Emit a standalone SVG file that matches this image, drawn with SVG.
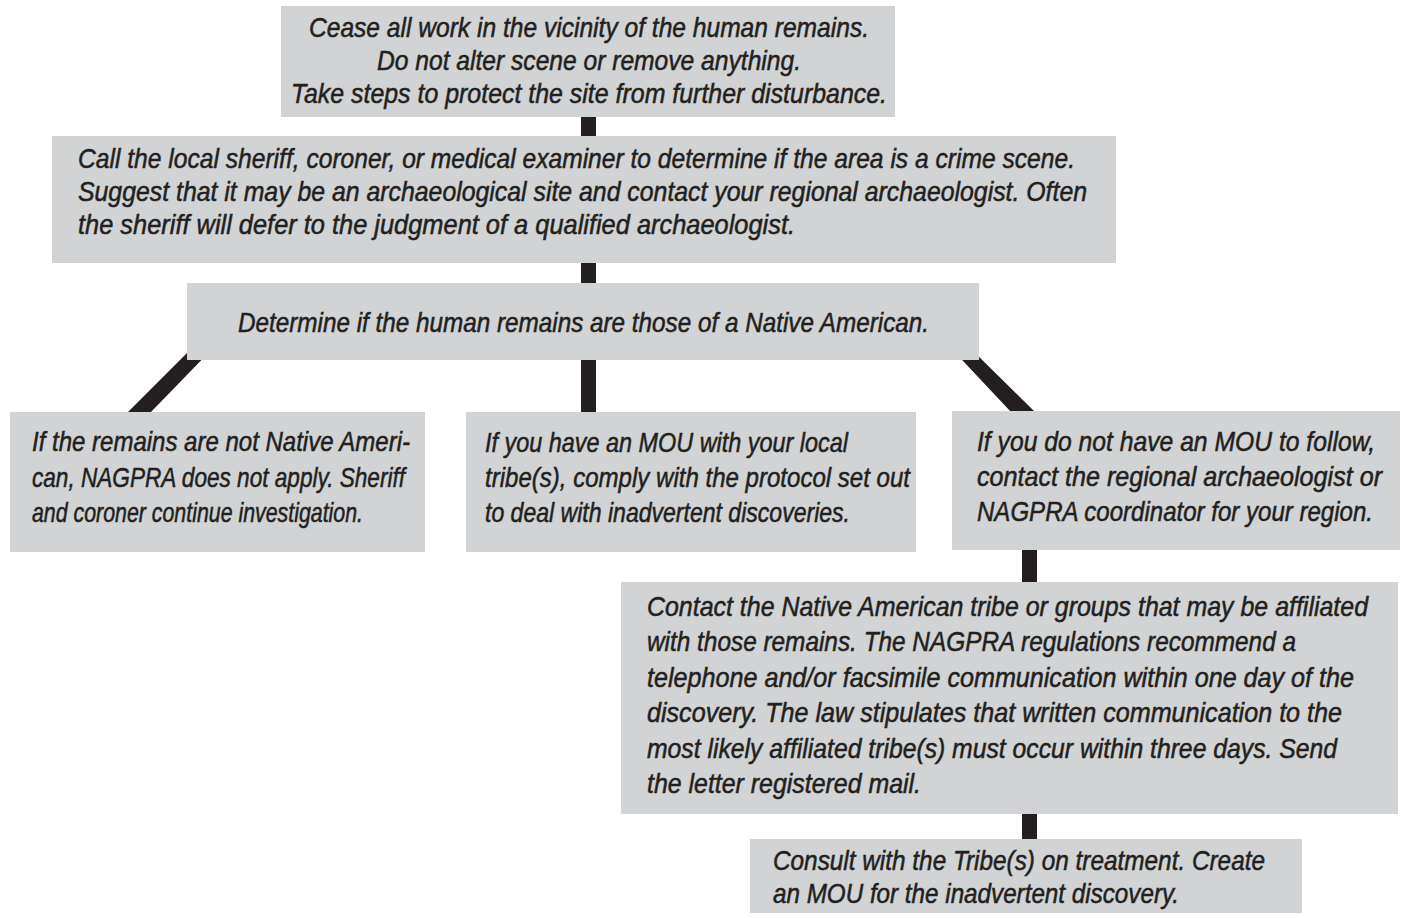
<svg xmlns="http://www.w3.org/2000/svg" width="1403" height="918" viewBox="0 0 1403 918">
<style>
.box{fill:#d1d3d4}
.con{fill:#231f20}
text{font-family:"Liberation Sans",Arial,sans-serif;font-style:italic;font-size:24px;fill:#231f20;stroke:#231f20;stroke-width:0.45px}
</style>
<rect width="1403" height="918" fill="#ffffff"/>
<g id="connectors">
<rect class="con" x="581" y="110" width="15" height="30"/>
<rect class="con" x="581" y="255" width="15" height="32"/>
<rect class="con" x="581" y="355" width="15" height="62"/>
<polygon class="con" points="195,345 216,345 150,413 127,413"/>
<polygon class="con" points="948,345 967,345 1035,412 1011,412"/>
<rect class="con" x="1022" y="545" width="15" height="42"/>
<rect class="con" x="1022" y="810" width="15" height="34"/>
</g>
<g id="node1">
<rect class="box" x="281" y="6" width="614" height="111"/>
<text transform="translate(309,37) scale(1,1.125)" textLength="560" lengthAdjust="spacingAndGlyphs">Cease all work in the vicinity of the human remains.</text>
<text transform="translate(377,70) scale(1,1.125)" textLength="424" lengthAdjust="spacingAndGlyphs">Do not alter scene or remove anything.</text>
<text transform="translate(291,103) scale(1,1.125)" textLength="596" lengthAdjust="spacingAndGlyphs">Take steps to protect the site from further disturbance.</text>
</g>
<g id="node2">
<rect class="box" x="52" y="136" width="1064" height="127"/>
<text transform="translate(78,168) scale(1,1.125)" textLength="997" lengthAdjust="spacingAndGlyphs">Call the local sheriff, coroner, or medical examiner to determine if the area is a crime scene.</text>
<text transform="translate(78,201) scale(1,1.125)" textLength="1009" lengthAdjust="spacingAndGlyphs">Suggest that it may be an archaeological site and contact your regional archaeologist. Often</text>
<text transform="translate(78,234) scale(1,1.125)" textLength="717" lengthAdjust="spacingAndGlyphs">the sheriff will defer to the judgment of a qualified archaeologist.</text>
</g>
<g id="node3">
<rect class="box" x="187" y="283" width="792" height="77"/>
<text transform="translate(238,332) scale(1,1.125)" textLength="691" lengthAdjust="spacingAndGlyphs">Determine if the human remains are those of a Native American.</text>
</g>
<g id="node4">
<rect class="box" x="10" y="412" width="415" height="140"/>
<text transform="translate(32,451) scale(1,1.125)" textLength="378" lengthAdjust="spacingAndGlyphs">If the remains are not Native Ameri-</text>
<text transform="translate(32,487) scale(1,1.125)" textLength="373" lengthAdjust="spacingAndGlyphs">can, NAGPRA does not apply. Sheriff</text>
<text transform="translate(32,522) scale(1,1.125)" textLength="331" lengthAdjust="spacingAndGlyphs">and coroner continue investigation.</text>
</g>
<g id="node5">
<rect class="box" x="466" y="412" width="450" height="140"/>
<text transform="translate(485,452) scale(1,1.125)" textLength="363" lengthAdjust="spacingAndGlyphs">If you have an MOU with your local</text>
<text transform="translate(485,487) scale(1,1.125)" textLength="425" lengthAdjust="spacingAndGlyphs">tribe(s), comply with the protocol set out</text>
<text transform="translate(485,522) scale(1,1.125)" textLength="365" lengthAdjust="spacingAndGlyphs">to deal with inadvertent discoveries.</text>
</g>
<g id="node6">
<rect class="box" x="952" y="411" width="448" height="139"/>
<text transform="translate(977,451) scale(1,1.125)" textLength="398" lengthAdjust="spacingAndGlyphs">If you do not have an MOU to follow,</text>
<text transform="translate(977,486) scale(1,1.125)" textLength="405" lengthAdjust="spacingAndGlyphs">contact the regional archaeologist or</text>
<text transform="translate(977,521) scale(1,1.125)" textLength="396" lengthAdjust="spacingAndGlyphs">NAGPRA coordinator for your region.</text>
</g>
<g id="node7">
<rect class="box" x="621" y="582" width="777" height="232"/>
<text transform="translate(647,616) scale(1,1.125)" textLength="721" lengthAdjust="spacingAndGlyphs">Contact the Native American tribe or groups that may be affiliated</text>
<text transform="translate(647,651) scale(1,1.125)" textLength="649" lengthAdjust="spacingAndGlyphs">with those remains. The NAGPRA regulations recommend a</text>
<text transform="translate(647,687) scale(1,1.125)" textLength="707" lengthAdjust="spacingAndGlyphs">telephone and/or facsimile communication within one day of the</text>
<text transform="translate(647,722) scale(1,1.125)" textLength="695" lengthAdjust="spacingAndGlyphs">discovery. The law stipulates that written communication to the</text>
<text transform="translate(647,758) scale(1,1.125)" textLength="690" lengthAdjust="spacingAndGlyphs">most likely affiliated tribe(s) must occur within three days. Send</text>
<text transform="translate(647,793) scale(1,1.125)" textLength="274" lengthAdjust="spacingAndGlyphs">the letter registered mail.</text>
</g>
<g id="node8">
<rect class="box" x="750" y="839" width="552" height="74"/>
<text transform="translate(773,870) scale(1,1.125)" textLength="492" lengthAdjust="spacingAndGlyphs">Consult with the Tribe(s) on treatment. Create</text>
<text transform="translate(773,903) scale(1,1.125)" textLength="406" lengthAdjust="spacingAndGlyphs">an MOU for the inadvertent discovery.</text>
</g>
</svg>
